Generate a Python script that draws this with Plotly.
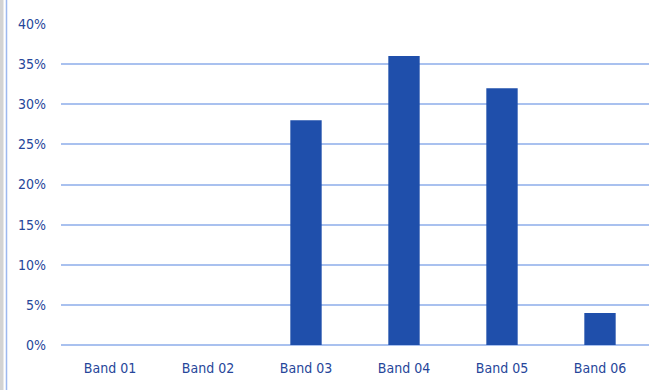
import plotly.graph_objects as go

# Share of items falling in each band
bands = ["Band 01", "Band 02", "Band 03", "Band 04", "Band 05", "Band 06"]
shares = [0.0, 0.0, 0.28, 0.36, 0.32, 0.04]
y_ticks = [0, 0.05, 0.10, 0.15, 0.20, 0.25, 0.30, 0.35, 0.40]
y_tick_labels = ["0%", "5%", "10%", "15%", "20%", "25%", "30%", "35%", "40%"]

W, H = 661, 390
ML, MR, MT, MB = 61, 12, 24, 45
PW, PH = W - ML - MR, H - MT - MB

TEXT = "#26469a"
BAR = "#1f4fab"
GRID = "#a9c1ef"

fig = go.Figure(
    go.Bar(
        x=bands,
        y=shares,
        marker=dict(color=BAR, line=dict(width=0)),
        width=0.32,
    )
)


def px_x(p):
    return (p - ML) / PW


def px_y(p):
    return 1 - (p - MT) / PH


fig.update_layout(
    width=W,
    height=H,
    margin=dict(l=ML, r=MR, t=MT, b=MB),
    paper_bgcolor="white",
    plot_bgcolor="white",
    showlegend=False,
    font=dict(family="DejaVu Sans Condensed, Liberation Sans Narrow, sans-serif", size=14, color=TEXT),
    xaxis=dict(
        showgrid=False,
        showline=False,
        zeroline=False,
        ticks="",
        ticklabelstandoff=13,
        tickfont=dict(size=14, color=TEXT),
    ),
    yaxis=dict(
        range=[0, 0.40],
        tickvals=y_ticks,
        ticktext=y_tick_labels,
        showgrid=True,
        gridcolor=GRID,
        gridwidth=1.5,
        zeroline=True,
        zerolinecolor=GRID,
        zerolinewidth=1.5,
        ticks="",
        ticklabelstandoff=14,
        tickfont=dict(size=14, color=TEXT),
    ),
    shapes=[
        # grey strip and thin blue rule along the left edge
        dict(type="rect", xref="paper", yref="paper",
             x0=px_x(0), x1=px_x(3.5), y0=px_y(H), y1=px_y(0),
             fillcolor="#d3d3d3", line=dict(width=0), layer="above"),
        dict(type="line", xref="paper", yref="paper",
             x0=px_x(6.5), x1=px_x(6.5), y0=px_y(H), y1=px_y(0),
             line=dict(color="#9db8ee", width=1.5), layer="above"),
    ],
)

fig.write_html("out.html")
